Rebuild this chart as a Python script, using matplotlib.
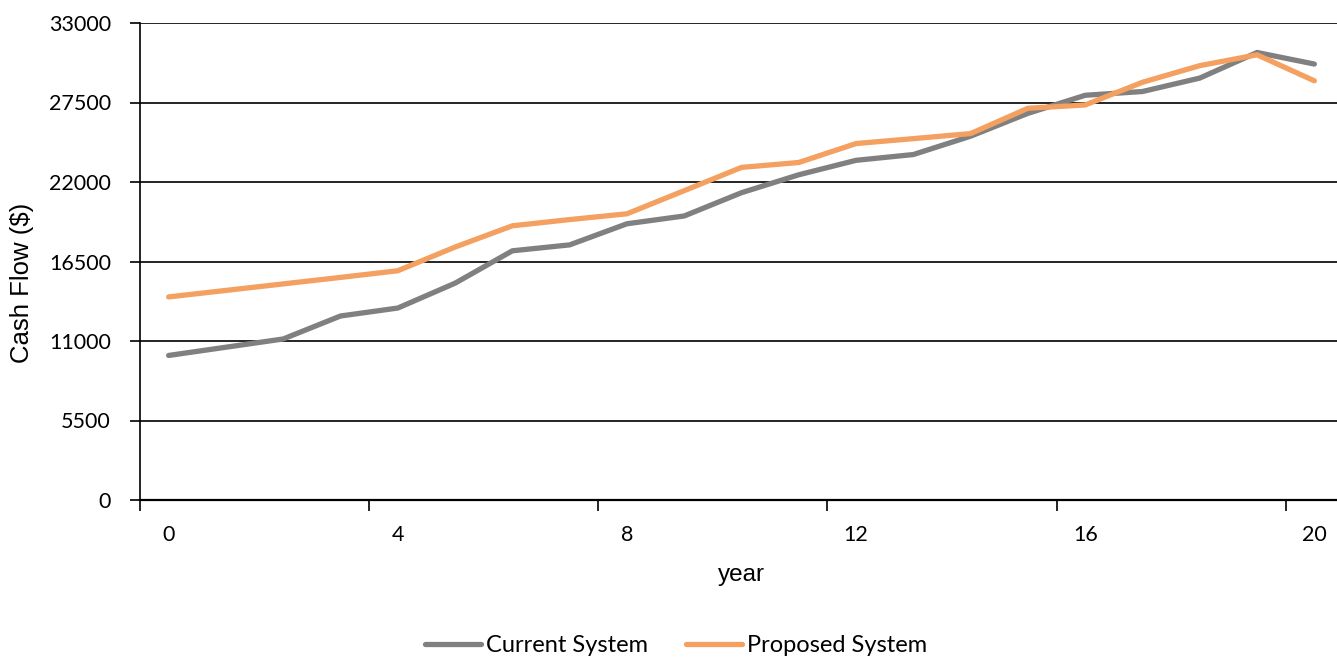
import numpy as np
import matplotlib.pyplot as plt
from matplotlib.ticker import FixedLocator

# data
years = list(range(21))
current = [10000, 10570, 11140, 12730, 13280, 15000, 17240, 17650, 19110, 19650, 21260,
           22500, 23500, 23900, 25170, 26750, 28000, 28260, 29190, 30960, 30160]
proposed = [14050, 14500, 14950, 15400, 15860, 17500, 18970, 19400, 19800, 21400, 23010,
            23350, 24660, 25000, 25350, 27100, 27330, 28900, 30050, 30800, 29000]
y_ticks = [0, 5500, 11000, 16500, 22000, 27500, 33000]
x_labels = [0, 4, 8, 12, 16, 20]

tick_font = 'Lato'
label_font = 'Liberation Sans'

fig = plt.figure(figsize=(13.37, 6.6), dpi=100)
W, H = 1337, 660
ax = fig.add_axes([140 / W, (H - 500) / H, (1343 - 140) / W, 477 / H])

ax.plot(years, current, color='#808080', lw=3.8, solid_capstyle='round', label='Current System', zorder=3)
ax.plot(years, proposed, color='#F4A060', lw=3.8, solid_capstyle='round', label='Proposed System', zorder=4)

ax.set_xlim(-0.5, 20.5)
ax.set_ylim(0, 33000)

# y axis
ax.set_yticks(y_ticks)
ax.set_yticklabels([str(v) for v in y_ticks], fontsize=15.5, family=tick_font)
ax.yaxis.grid(True, color='black', lw=1.2)
ax.tick_params(axis='y', direction='out', length=7, width=1.2, pad=14)

# x axis: tick marks between categories, labels centred on categories
ax.xaxis.set_major_locator(FixedLocator([x - 0.5 for x in x_labels]))
ax.xaxis.set_minor_locator(FixedLocator(x_labels))
ax.set_xticklabels([''] * len(x_labels))
ax.set_xticklabels([str(x) for x in x_labels], minor=True, fontsize=15.5, family=tick_font)
ax.tick_params(axis='x', which='major', direction='out', length=8, width=1.2)
ax.tick_params(axis='x', which='minor', length=0, pad=18)

for s in ['top', 'right']:
    ax.spines[s].set_visible(False)
ax.spines['left'].set_linewidth(1.2)
ax.spines['bottom'].set_linewidth(1.6)
ax.set_axisbelow(True)

ax.set_ylabel('Cash Flow ($)', fontsize=18.5, family=label_font)
ax.yaxis.set_label_coords((34 - 140) / 1203, (500 - 283) / 477)
ax.set_xlabel('year', fontsize=17.5, family=label_font, labelpad=14)

fig.legend(loc='center', bbox_to_anchor=(676 / W, (H - 646) / H), ncol=2, frameon=False,
           prop={'family': tick_font, 'size': 17}, handlelength=2.4, handletextpad=0.2,
           columnspacing=1.6)

fig.savefig('out.png', dpi=100)
